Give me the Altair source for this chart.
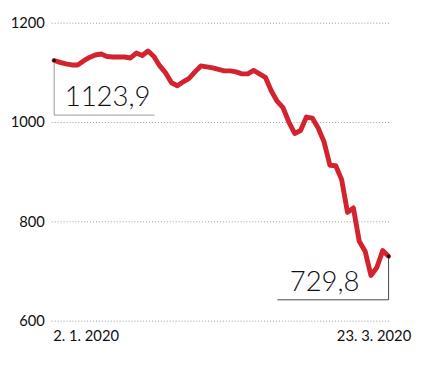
import altair as alt
import pandas as pd

# Trading-day index (2. 1. 2020 ... 23. 3. 2020) and index values
values = [1123.9, 1120, 1117, 1115, 1115, 1123, 1130, 1135, 1137, 1132,
          1131, 1131, 1131, 1129, 1139, 1134, 1143, 1132, 1113, 1099,
          1079, 1073, 1081, 1088, 1101, 1113, 1111, 1109, 1106, 1103,
          1103, 1101, 1097, 1097, 1104, 1097, 1090, 1063, 1042, 1029,
          1000, 977, 983, 1010, 1008, 988, 960, 913, 912, 884,
          818, 827, 760, 740, 691, 707, 741, 729.8]
days = list(range(len(values)))
y_ticks = [600, 800, 1000, 1200]
date_labels = ["2. 1. 2020", "23. 3. 2020"]
end_labels = ["1123,9", "729,8"]

df = pd.DataFrame({"day": days, "value": values})
last = len(values) - 1

W, H = 345, 303
FONT = "Lato"

x_scale = alt.Scale(domain=[-0.5, 57.33], nice=False, zero=False)
y_scale = alt.Scale(domain=[600, 1200], nice=False, zero=False)

base = alt.Chart(df)

line = base.mark_line(color="#d3232f", strokeWidth=5, strokeJoin="round", strokeCap="round").encode(
    x=alt.X("day:Q", scale=x_scale, axis=None),
    y=alt.Y("value:Q", scale=y_scale,
            axis=alt.Axis(values=y_ticks, format="d", title=None, domain=False, ticks=False,
                          grid=True, gridColor="#999999", gridDash=[1, 2], gridWidth=1,
                          labelFont=FONT, labelFontSize=15, labelColor="#111",
                          labelPadding=7)),
)

# annotation brackets
ann = pd.DataFrame({
    "x": [0, last], "y": [values[0], values[last]],
    "ybot": [1014, 642],
    "xh1": [0, 38.06], "xh2": [17.1, last],
    "tx": [9.1, 46.1], "ty": [1032, 659],
    "label": end_labels,
    "col": ["#999999", "#444444"],
})
abase = alt.Chart(ann)
vrule = abase.mark_rule(strokeWidth=1).encode(
    x=alt.X("x:Q", scale=x_scale), y=alt.Y("y:Q", scale=y_scale), y2="ybot:Q",
    color=alt.Color("col:N", scale=None))
hrule = abase.mark_rule(strokeWidth=1).encode(
    x=alt.X("xh1:Q", scale=x_scale), x2="xh2:Q", y=alt.Y("ybot:Q", scale=y_scale),
    color=alt.Color("col:N", scale=None))
dots = abase.mark_circle(size=12, color="#111", opacity=1).encode(
    x=alt.X("x:Q", scale=x_scale), y=alt.Y("y:Q", scale=y_scale))
big = abase.mark_text(font=FONT, fontSize=28, fontWeight=300, color="#111",
                      align="center", baseline="alphabetic").encode(
    x=alt.X("tx:Q", scale=x_scale), y=alt.Y("ty:Q", scale=y_scale), text="label:N")

dl = pd.DataFrame({"x": [0, last], "label": date_labels})
dleft = alt.Chart(dl.iloc[[0]]).mark_text(font=FONT, fontSize=15, color="#111", align="left",
                                         baseline="middle", dx=-1).encode(
    x=alt.X("x:Q", scale=x_scale), y=alt.value(H + 16), text="label:N")
dright = alt.Chart(dl.iloc[[1]]).mark_text(font=FONT, fontSize=15, color="#111", align="right",
                                          baseline="middle", dx=23).encode(
    x=alt.X("x:Q", scale=x_scale), y=alt.value(H + 16), text="label:N")

chart = alt.layer(line, vrule, hrule, dots, big, dleft, dright).properties(
    width=W, height=H, autosize="none",
    padding={"left": 44, "top": 12, "right": 30, "bottom": 35},
).configure(background="white").configure_view(stroke=None, strokeWidth=0)

chart.save("out.html", embed_options={"renderer": "svg", "actions": False})
